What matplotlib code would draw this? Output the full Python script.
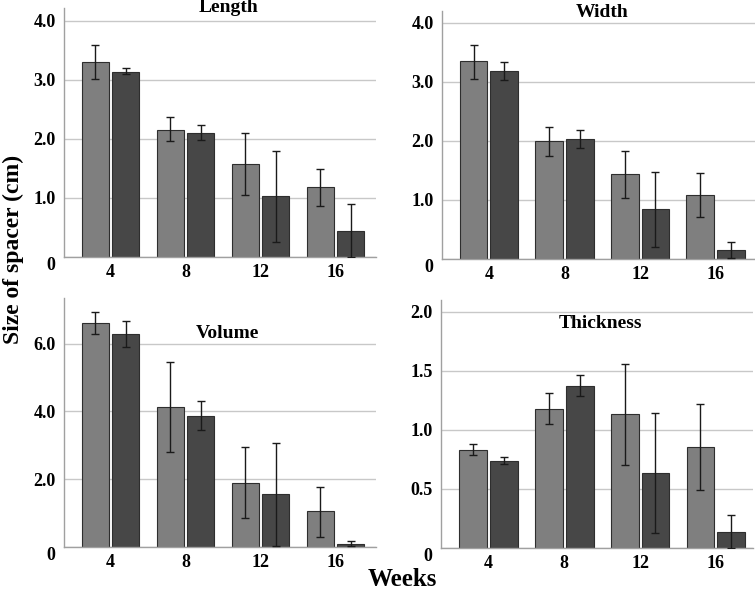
import matplotlib
matplotlib.use("Agg")
import matplotlib.pyplot as plt
import numpy as np

weeks = ["4", "8", "12", "16"]

# Length
length_a = [3.31, 2.16, 1.58, 1.18]
length_a_lo = [3.02, 1.96, 1.05, 0.86]
length_a_hi = [3.60, 2.37, 2.11, 1.49]
length_b = [3.14, 2.11, 1.03, 0.44]
length_b_lo = [3.10, 1.98, 0.25, 0.00]
length_b_hi = [3.20, 2.23, 1.80, 0.89]

# Width
width_a = [3.35, 1.99, 1.44, 1.08]
width_a_lo = [3.05, 1.75, 1.03, 0.71]
width_a_hi = [3.63, 2.24, 1.83, 1.46]
width_b = [3.18, 2.03, 0.85, 0.15]
width_b_lo = [3.03, 1.88, 0.21, 0.01]
width_b_hi = [3.34, 2.18, 1.48, 0.28]

# Volume
volume_a = [6.61, 4.13, 1.90, 1.05]
volume_a_lo = [6.30, 2.81, 0.86, 0.30]
volume_a_hi = [6.93, 5.46, 2.96, 1.77]
volume_b = [6.28, 3.87, 1.55, 0.10]
volume_b_lo = [5.89, 3.44, 0.03, 0.02]
volume_b_hi = [6.66, 4.30, 3.07, 0.18]

# Thickness
thick_a = [0.833, 1.18, 1.133, 0.859]
thick_a_lo = [0.785, 1.054, 0.706, 0.494]
thick_a_hi = [0.884, 1.31, 1.559, 1.223]
thick_b = [0.74, 1.376, 0.636, 0.138]
thick_b_lo = [0.715, 1.288, 0.127, 0.0]
thick_b_hi = [0.771, 1.463, 1.144, 0.277]

plt.rcParams['font.family'] = ['Liberation Serif', 'DejaVu Serif']
plt.rcParams['font.weight'] = 'bold'

W, H = 755, 590
fig = plt.figure(figsize=(W / 100, H / 100), dpi=100)

def pax(l, r, t, b):
    return fig.add_axes([l / W, 1 - b / H, (r - l) / W, (b - t) / H])

panels = [
    dict(box=(64, 376, 8, 257), title="Length", tpos=(0.526, 1.0), ylim=4.22,
         yt=[0, 1, 2, 3, 4], ytl=["0", "1.0", "2.0", "3.0", "4.0"], xl=(-0.62, 3.54),
         a=(length_a, length_a_lo, length_a_hi), b=(length_b, length_b_lo, length_b_hi)),
    dict(box=(442, 755, 11, 259), title="Width", tpos=(0.513, 0.993), ylim=4.2,
         yt=[0, 1, 2, 3, 4], ytl=["0", "1.0", "2.0", "3.0", "4.0"], xl=(-0.62, 3.52),
         a=(width_a, width_a_lo, width_a_hi), b=(width_b, width_b_lo, width_b_hi)),
    dict(box=(64, 376, 298, 547), title="Volume", tpos=(0.525, 0.858), ylim=7.35,
         yt=[0, 2, 4, 6], ytl=["0", "2.0", "4.0", "6.0"], xl=(-0.62, 3.54),
         a=(volume_a, volume_a_lo, volume_a_hi), b=(volume_b, volume_b_lo, volume_b_hi)),
    dict(box=(441, 753, 300, 548), title="Thickness", tpos=(0.51, 0.906), ylim=2.1,
         yt=[0, 0.5, 1.0, 1.5, 2.0], ytl=["0", "0.5", "1.0", "1.5", "2.0"], xl=(-0.627, 3.49),
         a=(thick_a, thick_a_lo, thick_a_hi), b=(thick_b, thick_b_lo, thick_b_hi)),
]

x = np.arange(len(weeks))
bw = 0.367
off = 0.203
light = "#7f7f7f"
dark = "#474747"

for p in panels:
    ax = pax(*p["box"])
    for (vals, lo, hi), dx, col in ((p["a"], -off, light), (p["b"], off, dark)):
        vals = np.array(vals); lo = np.array(lo); hi = np.array(hi)
        ax.bar(x + dx, vals, width=bw, color=col, edgecolor="#2e2e2e", linewidth=0.8, zorder=2)
        ax.errorbar(x + dx, vals, yerr=[vals - lo, hi - vals], fmt="none", ecolor="#1a1a1a",
                    elinewidth=1.0, capsize=3, capthick=1.0, zorder=3)
    ax.set_xlim(*p["xl"])
    ax.set_ylim(0, p["ylim"])
    ax.set_xticks(x)
    ax.set_xticklabels(weeks, fontsize=13, fontweight="bold")
    ax.set_yticks(p["yt"])
    ax.set_yticklabels(p["ytl"], fontsize=13, fontweight="bold")
    ax.get_yticklabels()[0].set_verticalalignment("top")
    ax.tick_params(axis="both", length=0)
    ax.tick_params(axis="y", pad=6)
    ax.tick_params(axis="x", pad=5)
    ax.yaxis.grid(True, color="#c8c8c8", linewidth=1.0, zorder=0)
    ax.set_axisbelow(True)
    for s in ("top", "right"):
        ax.spines[s].set_visible(False)
    for s in ("left", "bottom"):
        ax.spines[s].set_color("#a0a0a0")
        ax.spines[s].set_linewidth(1.0)
    ax.text(p["tpos"][0], p["tpos"][1], p["title"], transform=ax.transAxes, ha="center",
            va="center", fontsize=14, fontweight="bold")

fig.text(13 / W, 1 - 249 / H, "Size of spacer (cm)", rotation=90, ha="center", va="center",
         fontsize=17, fontweight="bold")
fig.text(402 / W, 1 - 580 / H, "Weeks", ha="center", va="center", fontsize=18, fontweight="bold")

fig.savefig("out.png", dpi=100)
